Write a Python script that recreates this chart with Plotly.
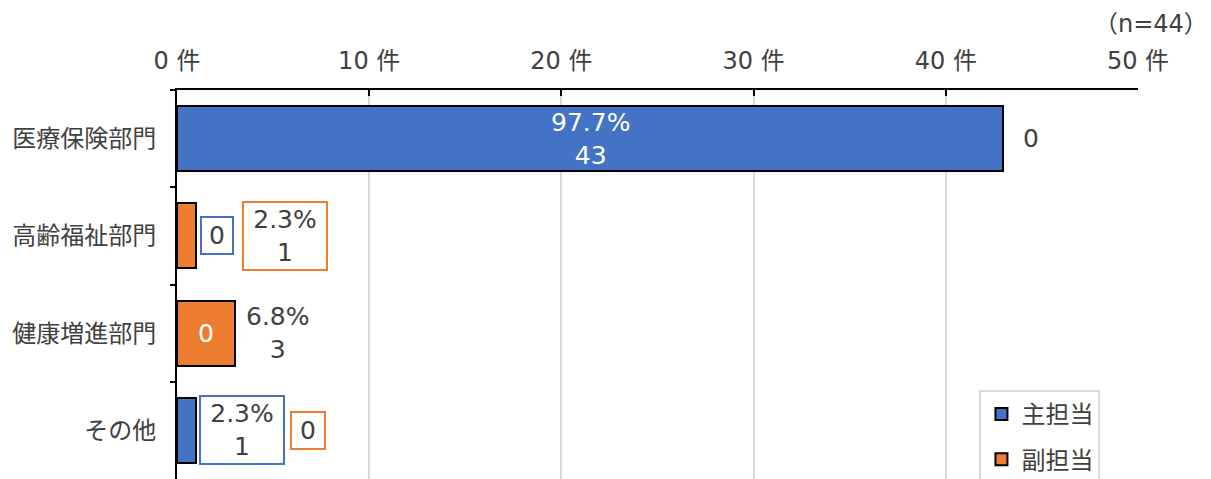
import plotly.graph_objects as go

categories = ["医療保険部門", "高齢福祉部門", "健康増進部門", "その他"]
series_names = ["主担当", "副担当"]
main_vals = [43, 0, 0, 1]
sub_vals = [0, 1, 3, 0]
n_total = 44
x_tickvals = [0, 10, 20, 30, 40, 50]
x_ticktext = ["0 件", "10 件", "20 件", "30 件", "40 件", "50 件"]

BLUE = "#4472C4"
ORANGE = "#ED7D31"
TXT = "#404040"
FONT = "DejaVu Sans, Noto Sans CJK JP"
FS = 24
FS_LBL = 25

fig = go.Figure()
for name, vals, col in [(series_names[0], main_vals, BLUE), (series_names[1], sub_vals, ORANGE)]:
    fig.add_trace(go.Bar(
        y=categories, x=vals, name=name, orientation="h",
        marker=dict(color=col, line=dict(color="black", width=2)),
        legendgroup=name,
    ))

def label(v):
    return f"{v / n_total * 100:.1f}%<br>{v}" if v > 0 else "0"

# label placement per (series, category): mode, xshift, box, width, height
place = {
    ("main", 0): ("center_own", 0, False, None, None),
    ("sub", 0): ("end", 18, False, None, None),
    ("main", 1): ("end", 4, True, 28, 33),
    ("sub", 1): ("end", 46, True, 80, 64),
    ("main", 2): ("center_total", 0, False, None, None),
    ("sub", 2): ("end", 9, False, None, None),
    ("main", 3): ("end", 3, True, 80, 64),
    ("sub", 3): ("end", 94, True, 30, 33),
}

for i, cat in enumerate(categories):
    tot = main_vals[i] + sub_vals[i]
    for key, vals, col in [("main", main_vals, BLUE), ("sub", sub_vals, ORANGE)]:
        mode, xs, box, w, h = place[(key, i)]
        v = vals[i]
        if mode == "center_own":
            x, xa, fc = v / 2, "center", "white"
        elif mode == "center_total":
            x, xa, fc = tot / 2, "center", "white"
        else:
            x, xa, fc = tot, "left", TXT
        ann = dict(x=x, y=cat, xref="x", yref="y", text=label(v), showarrow=False,
                   xanchor=xa, yanchor="middle", xshift=xs, align="center",
                   font=dict(family=FONT, size=FS_LBL, color=fc))
        if box:
            ann.update(bordercolor=col, borderwidth=2, borderpad=1, width=w, height=h,
                       bgcolor="white")
        fig.add_annotation(**ann)

fig.add_annotation(text="（n=44）", xref="paper", yref="paper", x=1.0745, y=1.17,
                   xanchor="right", yanchor="middle", showarrow=False,
                   font=dict(family=FONT, size=FS, color=TXT))

fig.update_layout(
    width=1211, height=479,
    margin=dict(l=177, r=73, t=90, b=0, autoexpand=False),
    barmode="stack", bargap=0.33,
    plot_bgcolor="white", paper_bgcolor="white",
    font=dict(family=FONT, size=FS, color=TXT),
    legend=dict(x=0.835, y=0.229, xanchor="left", yanchor="top",
                bordercolor="#D9D9D9", borderwidth=2, bgcolor="white",
                tracegroupgap=11, font=dict(size=FS, color=TXT),
                traceorder="grouped", itemwidth=30),
    showlegend=True,
)
fig.update_xaxes(side="top", range=[0, 50], tickvals=x_tickvals, ticktext=x_ticktext,
                 showline=True, linecolor="black", linewidth=2,
                 ticks="inside", ticklen=6, tickwidth=2, tickcolor="black",
                 showgrid=True, gridcolor="#D9D9D9", gridwidth=2, zeroline=False,
                 ticklabelstandoff=9,
                 tickfont=dict(family=FONT, size=FS, color=TXT))
fig.update_yaxes(autorange="reversed", showline=True, linecolor="black", linewidth=2,
                 ticks="outside", tickson="boundaries", ticklen=5, tickwidth=2,
                 tickcolor="black", ticklabelstandoff=14,
                 tickfont=dict(family=FONT, size=FS, color=TXT))

fig.write_html("out.html")
